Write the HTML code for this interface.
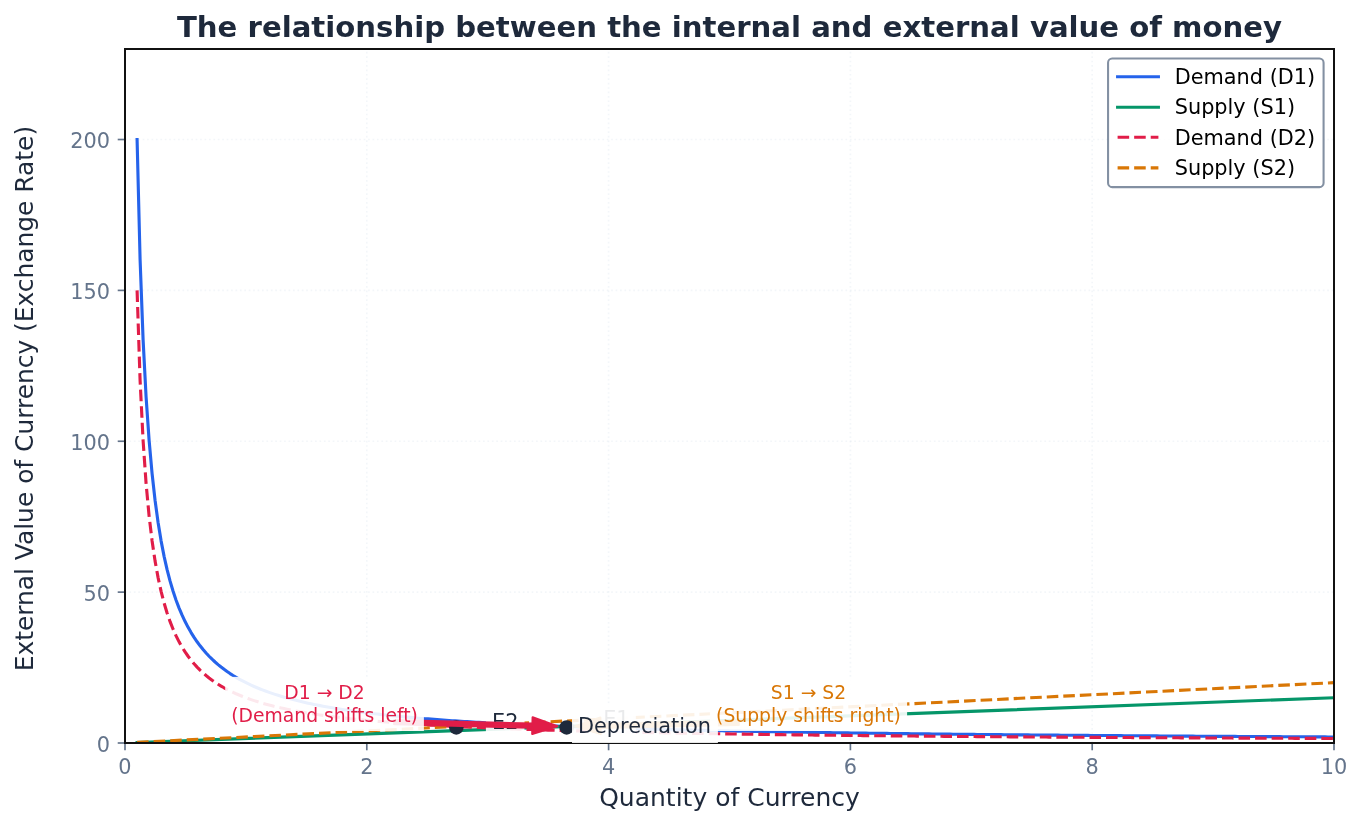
<!DOCTYPE html>
<html lang="en"><head><meta charset="utf-8"><title>The relationship between the internal and external value of money</title>
<style>
html,body{margin:0;padding:0;background:#fff}
body{width:1362px;height:825px;overflow:hidden}
svg{display:block}
</style></head><body>
<svg width="1362" height="825" viewBox="0 0 1362 825">
<defs><clipPath id="ax"><rect x="125" y="49" width="1209" height="694"/></clipPath></defs>
<rect width="1362" height="825" fill="#fff"/>
<g fill="none" stroke="#e2e8f0" stroke-opacity="0.4" stroke-width="1.67" stroke-dasharray="1.67 2.75" clip-path="url(#ax)">
<path d="M125 743V49"/>
<path d="M366.8 743V49"/>
<path d="M608.6 743V49"/>
<path d="M850.4 743V49"/>
<path d="M1092.2 743V49"/>
<path d="M1334 743V49"/>
<path d="M125 743H1334"/>
<path d="M125 592.13H1334"/>
<path d="M125 441.26H1334"/>
<path d="M125 290.39H1334"/>
<path d="M125 139.52H1334"/>
</g>
<g fill="none" stroke-width="3.12" stroke-linejoin="round" clip-path="url(#ax)">
<path stroke="#2563eb" stroke-linecap="square" d="M137.09 139.52L140.09 259.49L143.09 339.67L146.09 397.04L149.09 440.12L152.09 473.66L155.09 500.51L158.09 522.5L161.09 540.83L164.09 556.34L167.09 569.65L170.09 581.18L173.09 591.27L176.09 600.18L179.09 608.1L182.09 615.19L185.09 621.57L188.09 627.35L191.09 632.6L194.09 637.39L197.09 641.79L200.09 645.83L203.09 649.56L206.08 653.02L209.08 656.23L212.08 659.22L215.08 662.01L218.08 664.62L221.08 667.07L224.08 669.36L227.08 671.53L230.08 673.57L233.08 675.5L236.08 677.32L239.08 679.05L242.08 680.68L245.08 682.24L248.08 683.72L251.08 685.13L254.08 686.48L257.08 687.76L260.08 688.99L263.08 690.16L266.08 691.28L269.08 692.36L272.08 693.39L275.08 694.39L278.08 695.34L281.08 696.25L284.08 697.14L287.08 697.98L290.08 698.8L293.08 699.59L296.08 700.35L299.08 701.09L302.08 701.8L305.08 702.48L308.08 703.15L311.08 703.79L314.08 704.41L317.08 705.01L320.08 705.6L323.08 706.17L326.08 706.71L329.08 707.25L332.08 707.77L335.08 708.27L338.07 708.76L341.07 709.23L344.07 709.7L347.07 710.15L350.07 710.58L353.07 711.01L356.07 711.43L359.07 711.83L362.07 712.22L365.07 712.61L368.07 712.98L371.07 713.35L374.07 713.71L377.07 714.06L380.07 714.4L383.07 714.73L386.07 715.05L389.07 715.37L392.07 715.68L395.07 715.98L398.07 716.28L401.07 716.57L404.07 716.86L407.07 717.13L410.07 717.41L413.07 717.67L416.07 717.93L419.07 718.19L422.07 718.44L425.07 718.69L428.07 718.93L431.07 719.16L434.07 719.39L437.07 719.62L440.07 719.84L443.07 720.06L446.07 720.28L449.07 720.49L452.07 720.69L455.07 720.9L458.07 721.09L461.07 721.29L464.07 721.48L467.07 721.67L470.06 721.86L473.06 722.04L476.06 722.22L479.06 722.39L482.06 722.57L485.06 722.74L488.06 722.9L491.06 723.07L494.06 723.23L497.06 723.39L500.06 723.55L503.06 723.7L506.06 723.85L509.06 724L512.06 724.15L515.06 724.3L518.06 724.44L521.06 724.58L524.06 724.72L527.06 724.85L530.06 724.99L533.06 725.12L536.06 725.25L539.06 725.38L542.06 725.51L545.06 725.63L548.06 725.75L551.06 725.88L554.06 726L557.06 726.11L560.06 726.23L563.06 726.34L566.06 726.46L569.06 726.57L572.06 726.68L575.06 726.79L578.06 726.9L581.06 727L584.06 727.11L587.06 727.21L590.06 727.31L593.06 727.41L596.06 727.51L599.06 727.61L602.06 727.71L605.05 727.8L608.05 727.9L611.05 727.99L614.05 728.08L617.05 728.17L620.05 728.26L623.05 728.35L626.05 728.44L629.05 728.53L632.05 728.61L635.05 728.7L638.05 728.78L641.05 728.86L644.05 728.94L647.05 729.02L650.05 729.1L653.05 729.18L656.05 729.26L659.05 729.34L662.05 729.41L665.05 729.49L668.05 729.56L671.05 729.64L674.05 729.71L677.05 729.78L680.05 729.86L683.05 729.93L686.05 730L689.05 730.06L692.05 730.13L695.05 730.2L698.05 730.27L701.05 730.33L704.05 730.4L707.05 730.46L710.05 730.53L713.05 730.59L716.05 730.66L719.05 730.72L722.05 730.78L725.05 730.84L728.05 730.9L731.05 730.96L734.05 731.02L737.04 731.08L740.04 731.14L743.04 731.19L746.04 731.25L749.04 731.31L752.04 731.36L755.04 731.42L758.04 731.47L761.04 731.53L764.04 731.58L767.04 731.64L770.04 731.69L773.04 731.74L776.04 731.79L779.04 731.84L782.04 731.9L785.04 731.95L788.04 732L791.04 732.05L794.04 732.09L797.04 732.14L800.04 732.19L803.04 732.24L806.04 732.29L809.04 732.33L812.04 732.38L815.04 732.43L818.04 732.47L821.04 732.52L824.04 732.56L827.04 732.61L830.04 732.65L833.04 732.7L836.04 732.74L839.04 732.78L842.04 732.82L845.04 732.87L848.04 732.91L851.04 732.95L854.04 732.99L857.04 733.03L860.04 733.07L863.04 733.11L866.04 733.15L869.03 733.19L872.03 733.23L875.03 733.27L878.03 733.31L881.03 733.35L884.03 733.39L887.03 733.43L890.03 733.46L893.03 733.5L896.03 733.54L899.03 733.57L902.03 733.61L905.03 733.65L908.03 733.68L911.03 733.72L914.03 733.75L917.03 733.79L920.03 733.82L923.03 733.86L926.03 733.89L929.03 733.93L932.03 733.96L935.03 733.99L938.03 734.03L941.03 734.06L944.03 734.09L947.03 734.12L950.03 734.16L953.03 734.19L956.03 734.22L959.03 734.25L962.03 734.28L965.03 734.31L968.03 734.35L971.03 734.38L974.03 734.41L977.03 734.44L980.03 734.47L983.03 734.5L986.03 734.53L989.03 734.56L992.03 734.58L995.03 734.61L998.03 734.64L1001.03 734.67L1004.02 734.7L1007.02 734.73L1010.02 734.76L1013.02 734.78L1016.02 734.81L1019.02 734.84L1022.02 734.87L1025.02 734.89L1028.02 734.92L1031.02 734.95L1034.02 734.97L1037.02 735L1040.02 735.03L1043.02 735.05L1046.02 735.08L1049.02 735.1L1052.02 735.13L1055.02 735.15L1058.02 735.18L1061.02 735.21L1064.02 735.23L1067.02 735.25L1070.02 735.28L1073.02 735.3L1076.02 735.33L1079.02 735.35L1082.02 735.38L1085.02 735.4L1088.02 735.42L1091.02 735.45L1094.02 735.47L1097.02 735.49L1100.02 735.52L1103.02 735.54L1106.02 735.56L1109.02 735.59L1112.02 735.61L1115.02 735.63L1118.02 735.65L1121.02 735.67L1124.02 735.7L1127.02 735.72L1130.02 735.74L1133.02 735.76L1136.01 735.78L1139.01 735.8L1142.01 735.83L1145.01 735.85L1148.01 735.87L1151.01 735.89L1154.01 735.91L1157.01 735.93L1160.01 735.95L1163.01 735.97L1166.01 735.99L1169.01 736.01L1172.01 736.03L1175.01 736.05L1178.01 736.07L1181.01 736.09L1184.01 736.11L1187.01 736.13L1190.01 736.15L1193.01 736.17L1196.01 736.19L1199.01 736.21L1202.01 736.23L1205.01 736.24L1208.01 736.26L1211.01 736.28L1214.01 736.3L1217.01 736.32L1220.01 736.34L1223.01 736.36L1226.01 736.37L1229.01 736.39L1232.01 736.41L1235.01 736.43L1238.01 736.44L1241.01 736.46L1244.01 736.48L1247.01 736.5L1250.01 736.51L1253.01 736.53L1256.01 736.55L1259.01 736.57L1262.01 736.58L1265.01 736.6L1268 736.62L1271 736.63L1274 736.65L1277 736.67L1280 736.68L1283 736.7L1286 736.72L1289 736.73L1292 736.75L1295 736.76L1298 736.78L1301 736.8L1304 736.81L1307 736.83L1310 736.84L1313 736.86L1316 736.87L1319 736.89L1322 736.9L1325 736.92L1328 736.94L1331 736.95L1334 736.97"/>
<path stroke="#059669" stroke-linecap="square" d="M137.09 742.55L1334 697.74"/>
<path stroke="#e11d48" stroke-dasharray="11.56 5" d="M137.09 290.39L140.09 380.37L143.09 440.5L146.09 483.53L149.09 515.84L152.09 541L155.09 561.14L158.09 577.62L161.09 591.37L164.09 603.01L167.09 612.98L170.09 621.64L173.09 629.21L176.09 635.89L179.09 641.83L182.09 647.14L185.09 651.93L188.09 656.26L191.09 660.2L194.09 663.79L197.09 667.09L200.09 670.12L203.09 672.92L206.08 675.51L209.08 677.92L212.08 680.16L215.08 682.26L218.08 684.21L221.08 686.05L224.08 687.77L227.08 689.4L230.08 690.93L233.08 692.37L236.08 693.74L239.08 695.03L242.08 696.26L245.08 697.43L248.08 698.54L251.08 699.6L254.08 700.61L257.08 701.57L260.08 702.49L263.08 703.37L266.08 704.21L269.08 705.02L272.08 705.8L275.08 706.54L278.08 707.25L281.08 707.94L284.08 708.6L287.08 709.24L290.08 709.85L293.08 710.44L296.08 711.01L299.08 711.57L302.08 712.1L305.08 712.61L308.08 713.11L311.08 713.59L314.08 714.06L317.08 714.51L320.08 714.95L323.08 715.37L326.08 715.79L329.08 716.19L332.08 716.57L335.08 716.95L338.07 717.32L341.07 717.68L344.07 718.02L347.07 718.36L350.07 718.69L353.07 719.01L356.07 719.32L359.07 719.62L362.07 719.92L365.07 720.21L368.07 720.49L371.07 720.76L374.07 721.03L377.07 721.29L380.07 721.55L383.07 721.8L386.07 722.04L389.07 722.28L392.07 722.51L395.07 722.74L398.07 722.96L401.07 723.18L404.07 723.39L407.07 723.6L410.07 723.8L413.07 724L416.07 724.2L419.07 724.39L422.07 724.58L425.07 724.76L428.07 724.94L431.07 725.12L434.07 725.3L437.07 725.47L440.07 725.63L443.07 725.8L446.07 725.96L449.07 726.11L452.07 726.27L455.07 726.42L458.07 726.57L461.07 726.72L464.07 726.86L467.07 727L470.06 727.14L473.06 727.28L476.06 727.41L479.06 727.55L482.06 727.67L485.06 727.8L488.06 727.93L491.06 728.05L494.06 728.17L497.06 728.29L500.06 728.41L503.06 728.53L506.06 728.64L509.06 728.75L512.06 728.86L515.06 728.97L518.06 729.08L521.06 729.18L524.06 729.29L527.06 729.39L530.06 729.49L533.06 729.59L536.06 729.69L539.06 729.78L542.06 729.88L545.06 729.97L548.06 730.07L551.06 730.16L554.06 730.25L557.06 730.33L560.06 730.42L563.06 730.51L566.06 730.59L569.06 730.68L572.06 730.76L575.06 730.84L578.06 730.92L581.06 731L584.06 731.08L587.06 731.16L590.06 731.23L593.06 731.31L596.06 731.38L599.06 731.46L602.06 731.53L605.05 731.6L608.05 731.67L611.05 731.74L614.05 731.81L617.05 731.88L620.05 731.95L623.05 732.01L626.05 732.08L629.05 732.14L632.05 732.21L635.05 732.27L638.05 732.33L641.05 732.4L644.05 732.46L647.05 732.52L650.05 732.58L653.05 732.64L656.05 732.7L659.05 732.75L662.05 732.81L665.05 732.87L668.05 732.92L671.05 732.98L674.05 733.03L677.05 733.09L680.05 733.14L683.05 733.19L686.05 733.25L689.05 733.3L692.05 733.35L695.05 733.4L698.05 733.45L701.05 733.5L704.05 733.55L707.05 733.6L710.05 733.65L713.05 733.69L716.05 733.74L719.05 733.79L722.05 733.83L725.05 733.88L728.05 733.93L731.05 733.97L734.05 734.02L737.04 734.06L740.04 734.1L743.04 734.15L746.04 734.19L749.04 734.23L752.04 734.27L755.04 734.31L758.04 734.36L761.04 734.4L764.04 734.44L767.04 734.48L770.04 734.52L773.04 734.56L776.04 734.59L779.04 734.63L782.04 734.67L785.04 734.71L788.04 734.75L791.04 734.78L794.04 734.82L797.04 734.86L800.04 734.89L803.04 734.93L806.04 734.97L809.04 735L812.04 735.04L815.04 735.07L818.04 735.1L821.04 735.14L824.04 735.17L827.04 735.21L830.04 735.24L833.04 735.27L836.04 735.3L839.04 735.34L842.04 735.37L845.04 735.4L848.04 735.43L851.04 735.46L854.04 735.49L857.04 735.52L860.04 735.56L863.04 735.59L866.04 735.62L869.03 735.65L872.03 735.67L875.03 735.7L878.03 735.73L881.03 735.76L884.03 735.79L887.03 735.82L890.03 735.85L893.03 735.88L896.03 735.9L899.03 735.93L902.03 735.96L905.03 735.98L908.03 736.01L911.03 736.04L914.03 736.06L917.03 736.09L920.03 736.12L923.03 736.14L926.03 736.17L929.03 736.19L932.03 736.22L935.03 736.24L938.03 736.27L941.03 736.29L944.03 736.32L947.03 736.34L950.03 736.37L953.03 736.39L956.03 736.42L959.03 736.44L962.03 736.46L965.03 736.49L968.03 736.51L971.03 736.53L974.03 736.55L977.03 736.58L980.03 736.6L983.03 736.62L986.03 736.64L989.03 736.67L992.03 736.69L995.03 736.71L998.03 736.73L1001.03 736.75L1004.02 736.77L1007.02 736.8L1010.02 736.82L1013.02 736.84L1016.02 736.86L1019.02 736.88L1022.02 736.9L1025.02 736.92L1028.02 736.94L1031.02 736.96L1034.02 736.98L1037.02 737L1040.02 737.02L1043.02 737.04L1046.02 737.06L1049.02 737.08L1052.02 737.1L1055.02 737.12L1058.02 737.14L1061.02 737.15L1064.02 737.17L1067.02 737.19L1070.02 737.21L1073.02 737.23L1076.02 737.25L1079.02 737.26L1082.02 737.28L1085.02 737.3L1088.02 737.32L1091.02 737.34L1094.02 737.35L1097.02 737.37L1100.02 737.39L1103.02 737.4L1106.02 737.42L1109.02 737.44L1112.02 737.46L1115.02 737.47L1118.02 737.49L1121.02 737.51L1124.02 737.52L1127.02 737.54L1130.02 737.56L1133.02 737.57L1136.01 737.59L1139.01 737.6L1142.01 737.62L1145.01 737.64L1148.01 737.65L1151.01 737.67L1154.01 737.68L1157.01 737.7L1160.01 737.71L1163.01 737.73L1166.01 737.74L1169.01 737.76L1172.01 737.77L1175.01 737.79L1178.01 737.8L1181.01 737.82L1184.01 737.83L1187.01 737.85L1190.01 737.86L1193.01 737.88L1196.01 737.89L1199.01 737.91L1202.01 737.92L1205.01 737.93L1208.01 737.95L1211.01 737.96L1214.01 737.98L1217.01 737.99L1220.01 738L1223.01 738.02L1226.01 738.03L1229.01 738.04L1232.01 738.06L1235.01 738.07L1238.01 738.08L1241.01 738.1L1244.01 738.11L1247.01 738.12L1250.01 738.14L1253.01 738.15L1256.01 738.16L1259.01 738.17L1262.01 738.19L1265.01 738.2L1268 738.21L1271 738.23L1274 738.24L1277 738.25L1280 738.26L1283 738.27L1286 738.29L1289 738.3L1292 738.31L1295 738.32L1298 738.34L1301 738.35L1304 738.36L1307 738.37L1310 738.38L1313 738.39L1316 738.41L1319 738.42L1322 738.43L1325 738.44L1328 738.45L1331 738.46L1334 738.47"/>
<path stroke="#d97706" stroke-dasharray="11.56 5" d="M137.09 742.4L1334 682.65"/>
</g>
<circle cx="566.66" cy="727.47" r="7.29" fill="#1e293b"/>
<circle cx="456.3" cy="727.47" r="7.29" fill="#1e293b"/>
<g stroke="#64748b" stroke-width="1.67">
<path d="M125 743v7.29"/>
<path d="M366.8 743v7.29"/>
<path d="M608.6 743v7.29"/>
<path d="M850.4 743v7.29"/>
<path d="M1092.2 743v7.29"/>
<path d="M1334 743v7.29"/>
<path d="M125 743h-7.29"/>
<path d="M125 592.13h-7.29"/>
<path d="M125 441.26h-7.29"/>
<path d="M125 290.39h-7.29"/>
<path d="M125 139.52h-7.29"/>
</g>
<path d="M125 743H1334V49H125Z" fill="none" stroke="#111" stroke-width="2" stroke-linejoin="miter"/>
<g font-family="DejaVu Sans, Liberation Sans, sans-serif">
<rect x="596.95" y="703.3" width="38.9" height="32.5" fill="#fff" fill-opacity="0.9"/>
<text x="603.2" y="725.5" font-size="20.83" fill="#1e293b">E1</text>
<rect x="485.9" y="706.4" width="38.6" height="32.5" fill="#fff" fill-opacity="0.9"/>
<text x="492" y="728.6" font-size="20.83" fill="#1e293b">E2</text>
<path d="M738.7 720.81L600.48 723.68L600.35 717.43L575.53 726.28L600.7 734.1L600.57 727.85L738.79 724.97Z" fill="#d97706" stroke="#d97706" stroke-width="2.08" stroke-linejoin="round"/>
<path d="M394.13 724.26L532.35 727.71L532.2 733.95L557.4 726.25L532.61 717.29L532.46 723.54L394.23 720.09Z" fill="#e11d48" stroke="#e11d48" stroke-width="2.08" stroke-linejoin="round"/>
<rect x="572" y="709.6" width="145.9" height="33.4" fill="#fff" fill-opacity="0.9"/>
<text x="578" y="732.7" font-size="20.83" fill="#1e293b">Depreciation</text>
<rect x="225.2" y="676.9" width="198.7" height="54.1" fill="#fff" fill-opacity="0.9"/>
<text x="324.55" y="698.6" font-size="18.75" fill="#e11d48" text-anchor="middle">D1 → D2</text>
<text x="324.55" y="721.5" font-size="18.75" fill="#e11d48" text-anchor="middle">(Demand shifts left)</text>
<rect x="709.9" y="676.9" width="197.2" height="54.1" fill="#fff" fill-opacity="0.9"/>
<text x="808.5" y="698.6" font-size="18.75" fill="#d97706" text-anchor="middle">S1 → S2</text>
<text x="808.5" y="721.5" font-size="18.75" fill="#d97706" text-anchor="middle">(Supply shifts right)</text>
</g>
<g font-family="DejaVu Sans, Liberation Sans, sans-serif" font-size="20.83" fill="#64748b">
<g text-anchor="middle">
<text x="125" y="774.3">0</text>
<text x="366.8" y="774.3">2</text>
<text x="608.6" y="774.3">4</text>
<text x="850.4" y="774.3">6</text>
<text x="1092.2" y="774.3">8</text>
<text x="1334" y="774.3">10</text>
</g><g text-anchor="end">
<text x="110" y="751.9">0</text>
<text x="110" y="601.03">50</text>
<text x="110" y="450.16">100</text>
<text x="110" y="299.29">150</text>
<text x="110" y="148.42">200</text>
</g></g>
<g font-family="DejaVu Sans, Liberation Sans, sans-serif" fill="#1e293b" text-anchor="middle">
<text x="729.5" y="806.1" font-size="25">Quantity of Currency</text>
<text transform="translate(33.1 398.6) rotate(-90)" font-size="24.9">External Value of Currency (Exchange Rate)</text>
<text x="729.5" y="36.8" font-size="29.17" font-weight="bold">The relationship between the internal and external value of money</text>
</g>
<rect x="1108.06" y="58.52" width="215.52" height="128.57" rx="4.17" fill="#fff" fill-opacity="0.8" stroke="#64748b" stroke-opacity="0.8" stroke-width="2.08"/>
<g fill="none" stroke-width="3.12">
<path d="M1117.6 76.69H1158.4" stroke="#2563eb" stroke-linecap="square"/>
<path d="M1117.6 107.27H1158.4" stroke="#059669" stroke-linecap="square"/>
<path d="M1117.6 137.25H1158.4" stroke="#e11d48" stroke-dasharray="11.56 5"/>
<path d="M1117.6 167.83H1158.4" stroke="#d97706" stroke-dasharray="11.56 5"/>
</g>
<g font-family="DejaVu Sans, Liberation Sans, sans-serif" font-size="20.83" fill="#000">
<text x="1174.73" y="83.58">Demand (D1)</text>
<text x="1174.73" y="114.16">Supply (S1)</text>
<text x="1174.73" y="144.74">Demand (D2)</text>
<text x="1174.73" y="175.32">Supply (S2)</text>
</g>
</svg>
</body></html>
